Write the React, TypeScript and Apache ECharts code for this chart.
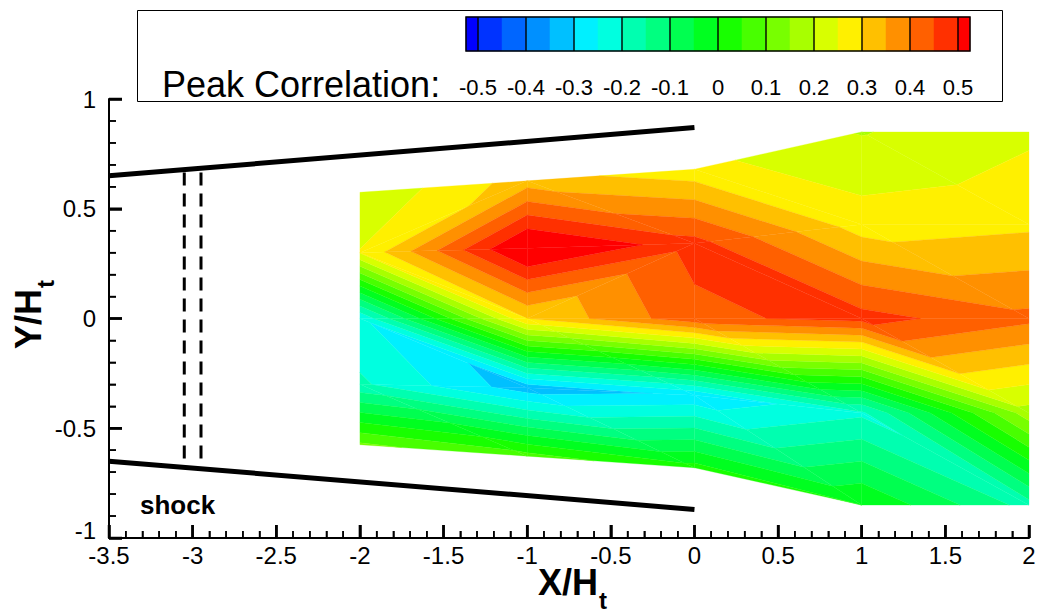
import React, { useEffect, useRef } from "react";
import * as echarts from "echarts";

// ---------- data ----------
// mesh columns (X/Ht) and the Y/Ht position of each mesh row in every column
const xNodes = [-2, -1, 0, 1, 2];
const yTop = [0.575, 0.627, 0.68, 0.85, 0.85];
const yUpper = [0.3, 0.32, 0.343, 0.428, 0.428];
const yMid = [0, 0, 0, 0, 0];
const yLower = [-0.3, -0.315, -0.35, -0.43, -0.43];
const yBottom = [-0.575, -0.627, -0.68, -0.85, -0.85];

// peak correlation at every mesh node (same row order)
const corrTop = [0.205, 0.325, 0.267, 0.197, 0.24];
const corrUpper = [0.253, 0.571, 0.468, 0.274, 0.29];
const corrMid = [-0.245, 0.3, 0.435, 0.47, 0.413];
const corrLower = [-0.19, -0.33, -0.29, -0.21, 0.18];
const corrBottom = [0.11, 0.07, 0.02, 0.0, -0.17];

// diagonal used to split every mesh cell into two triangles [column][row]
const cellDiagonals = [
  ["/", "\\", "\\", "\\"],
  ["\\", "/", "\\", "\\"],
  ["\\", "\\", "\\", "\\"],
  ["\\", "\\", "\\", "\\"],
];

// contour levels and flood colours
const levels = [
  -0.5, -0.45, -0.4, -0.35, -0.3, -0.25, -0.2, -0.15, -0.1, -0.05, 0, 0.05, 0.1,
  0.15, 0.2, 0.25, 0.3, 0.35, 0.4, 0.45, 0.5,
];
const bandColors = [
  "#0000ff", "#0033ff", "#0066ff", "#0090ff", "#00c0ff", "#00f0ff", "#00ffe0",
  "#00ffb0", "#00ff80", "#00ff50", "#00ff20", "#18ff00", "#48ff00", "#78ff00",
  "#a8ff00", "#d8ff00", "#fff000", "#ffc000", "#ff9000", "#ff6000", "#ff3000",
  "#ff0000",
];
const colorbarLabels = [-0.5, -0.4, -0.3, -0.2, -0.1, 0, 0.1, 0.2, 0.3, 0.4, 0.5];
const colorbarRange = [-0.525, 0.525];

// axis ranges and ticks
const xRange = [-3.5, 2];
const yRange = [-1, 1];
const majorStep = 0.5;
const minorPerMajor = 5;

// geometry lines
const upperWall = [[-3.5, 0.65], [0, 0.87]];
const lowerWall = [[-3.5, -0.65], [0, -0.87]];
const shockLineA = [[-3.05, 0.665], [-3.05, -0.64]];
const shockLineB = [[-2.95, 0.665], [-2.95, -0.64]];

// ---------- helpers ----------
const FONT = "'Liberation Sans', Arial, Helvetica, sans-serif";
const rowY = [yTop, yUpper, yMid, yLower, yBottom];
const rowV = [corrTop, corrUpper, corrMid, corrLower, corrBottom];

type Node = { x: number; y: number; v: number };
const node = (c: number, r: number): Node => ({ x: xNodes[c], y: rowY[r][c], v: rowV[r][c] });

const triangles: Node[][] = [];
for (let c = 0; c < xNodes.length - 1; c++) {
  for (let r = 0; r < rowY.length - 1; r++) {
    const A = node(c, r), B = node(c + 1, r), C = node(c + 1, r + 1), D = node(c, r + 1);
    if (cellDiagonals[c][r] === "/") {
      triangles.push([A, B, D], [B, C, D]);
    } else {
      triangles.push([A, B, C], [A, C, D]);
    }
  }
}

type PV = { p: number[]; v: number };
function clip(poly: PV[], level: number, keepAbove: boolean): PV[] {
  if (!isFinite(level)) return poly;
  const out: PV[] = [];
  const inside = (q: PV) => (keepAbove ? q.v >= level : q.v <= level);
  for (let i = 0; i < poly.length; i++) {
    const a = poly[i], b = poly[(i + 1) % poly.length];
    const ia = inside(a), ib = inside(b);
    if (ia) out.push(a);
    if (ia !== ib) {
      const t = (level - a.v) / (b.v - a.v);
      out.push({ p: [a.p[0] + t * (b.p[0] - a.p[0]), a.p[1] + t * (b.p[1] - a.p[1])], v: level });
    }
  }
  return out;
}

const bandLo = (k: number) => (k === 0 ? -Infinity : levels[k - 1]);
const bandHi = (k: number) => (k === bandColors.length - 1 ? Infinity : levels[k]);

function tickValues(range: number[]): { v: number; major: boolean }[] {
  const out: { v: number; major: boolean }[] = [];
  const n = Math.round((range[1] - range[0]) / majorStep) * minorPerMajor;
  for (let i = 0; i <= n; i++) {
    out.push({ v: range[0] + (i * majorStep) / minorPerMajor, major: i % minorPerMajor === 0 });
  }
  return out;
}
const xTicks = tickValues(xRange);
const yTicks = tickValues(yRange);

function mainAxis(extra: any) {
  return {
    gridIndex: 0,
    type: "value",
    axisLine: { show: true, onZero: false, lineStyle: { color: "#000", width: 2 } },
    axisTick: { show: true, inside: true, length: 13, lineStyle: { color: "#000", width: 2.5 } },
    minorTick: { show: true, splitNumber: minorPerMajor, length: 7, lineStyle: { color: "#000", width: 1.5 } },
    splitLine: { show: false },
    minorSplitLine: { show: false },
    ...extra,
  };
}

const baseGraphic: any[] = [
  {
    type: "rect", z: 0, left: 137, top: 10,
    shape: { width: 865, height: 91 },
    style: { fill: "#fff", stroke: "#000", lineWidth: 1 },
  },
  {
    type: "text", z: 10, x: 162, y: 84,
    style: { text: "Peak Correlation:", fontSize: 36, fontFamily: FONT, fill: "#000", align: "left", verticalAlign: "middle" },
  },
  {
    type: "text", z: 10, x: 96, y: 530,
    style: { text: String(yRange[0]), fontSize: 24, fontFamily: FONT, fill: "#000", align: "right", verticalAlign: "middle" },
  },
  {
    type: "text", z: 10, x: 140, y: 505,
    style: { text: "shock", fontSize: 26, fontWeight: "bold", fontFamily: FONT, fill: "#000", align: "left", verticalAlign: "middle" },
  },
  {
    type: "text", z: 10, x: 568, y: 582,
    style: { text: "X/H", fontSize: 36, fontWeight: "bold", fontFamily: FONT, fill: "#000", align: "center", verticalAlign: "middle" },
  },
  {
    type: "text", z: 10, x: 599, y: 600,
    style: { text: "t", fontSize: 24, fontWeight: "bold", fontFamily: FONT, fill: "#000", align: "left", verticalAlign: "middle" },
  },
  {
    type: "group", z: 10, x: 28, y: 319, rotation: Math.PI / 2,
    children: [
      {
        type: "text", x: 0, y: 0,
        style: { text: "Y/H", fontSize: 36, fontWeight: "bold", fontFamily: FONT, fill: "#000", align: "center", verticalAlign: "middle" },
      },
      {
        type: "text", x: 31, y: 17,
        style: { text: "t", fontSize: 24, fontWeight: "bold", fontFamily: FONT, fill: "#000", align: "left", verticalAlign: "middle" },
      },
    ],
  },
];

function buildOption(): any {
  const contourData = triangles.map((t, i) => [
    (t[0].x + t[1].x + t[2].x) / 3,
    (t[0].y + t[1].y + t[2].y) / 3,
    i,
  ]);
  const colorbarData = bandColors.map((_, k) => [
    k === 0 ? colorbarRange[0] : levels[k - 1],
    k === bandColors.length - 1 ? colorbarRange[1] : levels[k],
    k,
  ]);

  return {
    animation: false,
    backgroundColor: "#ffffff",
    grid: [
      { left: 109, top: 99, width: 920, height: 439 },
      { left: 466, top: 17, width: 504, height: 34 },
    ],
    xAxis: [
      mainAxis({
        min: xRange[0], max: xRange[1], interval: majorStep,
        axisLabel: { color: "#000", fontSize: 24, fontFamily: FONT, margin: 5 },
      }),
      {
        gridIndex: 1, type: "value", min: colorbarRange[0], max: colorbarRange[1],
        axisLine: { show: false }, axisTick: { show: false }, splitLine: { show: false },
        axisLabel: {
          show: true, customValues: colorbarLabels, color: "#000", fontSize: 22,
          fontFamily: FONT, margin: 25, formatter: (v: number) => String(v),
        },
      },
    ],
    yAxis: [
      mainAxis({
        min: yRange[0], max: yRange[1], interval: majorStep,
        axisLabel: { color: "#000", fontSize: 24, fontFamily: FONT, margin: 13, showMinLabel: false },
      }),
      { gridIndex: 1, type: "value", min: 0, max: 1, show: false },
    ],
    graphic: baseGraphic,
    series: [
      {
        type: "custom", name: "contour", xAxisIndex: 0, yAxisIndex: 0, z: 1, silent: true, clip: false,
        data: contourData,
        renderItem: (params: any, api: any) => {
          const tri = triangles[params.dataIndex];
          const base: PV[] = tri.map((n) => ({ p: api.coord([n.x, n.y]), v: n.v }));
          const children: any[] = [];
          for (let k = 0; k < bandColors.length; k++) {
            let poly = clip(base, bandLo(k), true);
            poly = clip(poly, bandHi(k), false);
            if (poly.length >= 3) {
              children.push({
                type: "polygon", silent: true,
                shape: { points: poly.map((q) => q.p) },
                style: { fill: bandColors[k], stroke: bandColors[k], lineWidth: 0.3 },
              });
            }
          }
          return { type: "group", children };
        },
      },
      {
        type: "line", xAxisIndex: 0, yAxisIndex: 0, data: upperWall, symbol: "none", silent: true, z: 3,
        lineStyle: { color: "#000", width: 5, cap: "butt" },
      },
      {
        type: "line", xAxisIndex: 0, yAxisIndex: 0, data: lowerWall, symbol: "none", silent: true, z: 3,
        lineStyle: { color: "#000", width: 5, cap: "butt" },
      },
      {
        type: "line", xAxisIndex: 0, yAxisIndex: 0, data: shockLineA, symbol: "none", silent: true, z: 3,
        lineStyle: { color: "#000", width: 3, type: [13, 8], cap: "butt" },
      },
      {
        type: "line", xAxisIndex: 0, yAxisIndex: 0, data: shockLineB, symbol: "none", silent: true, z: 3,
        lineStyle: { color: "#000", width: 3, type: [13, 8], cap: "butt" },
      },
      {
        type: "custom", name: "colorbar", xAxisIndex: 1, yAxisIndex: 1, z: 5, silent: true,
        data: colorbarData,
        renderItem: (params: any, api: any) => {
          const p0 = api.coord([api.value(0), 1]);
          const p1 = api.coord([api.value(1), 0]);
          return {
            type: "rect",
            shape: { x: p0[0], y: p0[1], width: p1[0] - p0[0], height: p1[1] - p0[1] },
            style: { fill: bandColors[api.value(2)], stroke: bandColors[api.value(2)], lineWidth: 0.5 },
          };
        },
      },
      {
        type: "custom", name: "colorbar-lines", xAxisIndex: 1, yAxisIndex: 1, z: 6, silent: true,
        data: colorbarLabels.map((v) => [v]),
        renderItem: (params: any, api: any) => {
          const top = api.coord([api.value(0), 1]);
          const bot = api.coord([api.value(0), 0]);
          const children: any[] = [
            {
              type: "line",
              shape: { x1: top[0], y1: top[1], x2: bot[0], y2: bot[1] },
              style: { stroke: "rgba(0,0,0,0.7)", lineWidth: 2 },
            },
          ];
          if (params.dataIndex === 0) {
            const a = api.coord([colorbarRange[0], 1]);
            const b = api.coord([colorbarRange[1], 0]);
            children.push({
              type: "rect",
              shape: { x: a[0], y: a[1], width: b[0] - a[0], height: b[1] - a[1] },
              style: { fill: "none", stroke: "#000", lineWidth: 1.5 },
            });
          }
          return { type: "group", children };
        },
      },
    ],
  };
}

// tick marks placed through the chart's own axis scales
function tickGraphic(chart: echarts.ECharts): any[] {
  const out: any[] = [];
  xTicks.forEach((t) => {
    const p = chart.convertToPixel({ gridIndex: 0 }, [t.v, yRange[0]]) as number[];
    const len = t.major ? 13 : 7;
    const w = t.major ? 2.5 : 1.5;
    out.push({
      type: "rect", z: 20, silent: true,
      shape: { x: p[0] - w / 2, y: p[1] - len, width: w, height: len },
      style: { fill: "#000" },
    });
  });
  yTicks.forEach((t) => {
    const p = chart.convertToPixel({ gridIndex: 0 }, [xRange[0], t.v]) as number[];
    const len = t.major ? 13 : 7;
    const w = t.major ? 2.5 : 1.5;
    out.push({
      type: "rect", z: 20, silent: true,
      shape: { x: p[0], y: p[1] - w / 2, width: len, height: w },
      style: { fill: "#000" },
    });
  });
  return out;
}

export default function App() {
  const ref = useRef<HTMLDivElement>(null);
  useEffect(() => {
    if (!ref.current) return;
    const chart = echarts.init(ref.current, null, { renderer: "svg" });
    chart.setOption(buildOption());
    try {
      chart.setOption({ graphic: [...baseGraphic, ...tickGraphic(chart)] });
    } catch (e) {
      // keep the chart even if tick placement fails
    }
    return () => chart.dispose();
  }, []);
  return (
    <div
      ref={ref}
      style={{ position: "fixed", left: 0, top: 0, width: 1041, height: 612, background: "#fff" }}
    />
  );
}
